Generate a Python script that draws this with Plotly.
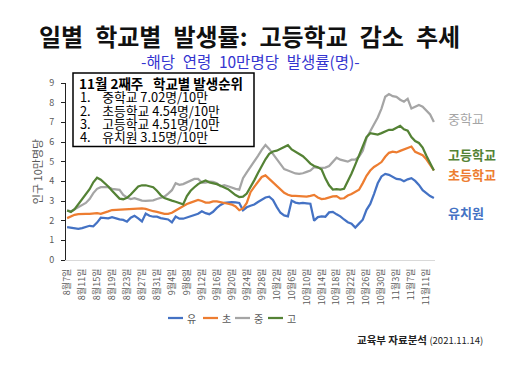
import pandas as pd
import plotly.graph_objects as go

# ---------------- data ----------------
dates = pd.date_range("2021-08-07", "2021-11-13")
categories = [f"{d.month}월{d.day}일" for d in dates]

tick_labels = ["8월7일", "8월11일", "8월15일", "8월19일", "8월23일", "8월27일", "8월31일",
               "9월4일", "9월8일", "9월12일", "9월16일", "9월20일", "9월24일", "9월28일",
               "10월2일", "10월6일", "10월10일", "10월14일", "10월18일", "10월22일",
               "10월26일", "10월30일", "11월3일", "11월7일", "11월11일"]

kinder = [1.67, 1.64, 1.61, 1.58, 1.62, 1.68, 1.74, 1.71, 1.90, 2.15,
          2.13, 2.12, 2.18, 2.12, 2.07, 2.04, 1.95, 2.15, 2.25, 2.12,
          1.96, 2.36, 2.25, 2.20, 2.20, 2.13, 2.10, 2.06, 1.91, 2.21,
          2.10, 2.10, 2.16, 2.22, 2.28, 2.35, 2.48, 2.38, 2.33, 2.45,
          2.65, 2.80, 2.90, 2.93, 2.94, 2.93, 2.90, 2.53, 2.68, 2.76,
          2.82, 2.95, 3.05, 3.18, 3.22, 3.05, 2.70, 2.40, 2.27, 2.22,
          3.02, 2.92, 2.88, 2.90, 2.88, 2.86, 2.00, 2.18, 2.22, 2.20,
          2.42, 2.45, 2.32, 2.22, 2.06, 1.92, 1.85, 1.65, 1.85, 2.05,
          2.55, 2.85, 3.35, 3.90, 4.25, 4.38, 4.33, 4.22, 4.12, 4.10,
          4.00, 4.10, 4.16, 4.02, 3.82, 3.55, 3.38, 3.25, 3.15]

elem = [2.13, 2.23, 2.30, 2.33, 2.35, 2.35, 2.35, 2.37, 2.38, 2.35,
        2.40, 2.47, 2.54, 2.55, 2.55, 2.57, 2.59, 2.59, 2.60, 2.61,
        2.62, 2.60, 2.53, 2.48, 2.45, 2.40, 2.35, 2.35, 2.40, 2.52,
        2.63, 2.76, 2.85, 2.92, 2.98, 3.05, 3.00, 2.92, 2.92, 2.98,
        2.98, 2.93, 2.88, 2.86, 2.82, 2.72, 2.53, 2.62, 2.90, 3.45,
        3.72, 3.98, 4.22, 4.30, 4.12, 3.98, 3.80, 3.60, 3.42, 3.32,
        3.26, 3.26, 3.24, 3.21, 3.22, 3.26, 3.31, 3.18, 3.10, 3.12,
        3.18, 3.23, 3.25, 3.12, 3.14, 3.28, 3.36, 3.45, 3.57, 3.91,
        4.28, 4.55, 4.73, 4.85, 4.98, 5.25, 5.45, 5.51, 5.47, 5.55,
        5.62, 5.68, 5.77, 5.50, 5.40, 5.33, 5.12, 4.85, 4.56]

middle = [2.52, 2.47, 2.58, 2.68, 2.76, 2.90, 3.10, 3.40, 3.62, 3.70,
          3.71, 3.70, 3.62, 3.58, 3.57, 3.31, 3.18, 3.10, 3.14, 3.08,
          3.02, 3.01, 3.01, 3.03, 3.10, 3.15, 3.22, 3.38, 3.55, 3.90,
          3.82, 3.86, 3.95, 4.04, 4.12, 4.12, 3.94, 3.94, 3.98, 3.97,
          3.90, 3.75, 3.80, 3.75, 3.68, 3.62, 3.58, 4.16, 4.45, 4.72,
          5.00, 5.30, 5.60, 5.85, 5.65, 5.38, 5.12, 4.85, 4.62, 4.55,
          4.46, 4.40, 4.38, 4.41, 4.48, 4.55, 4.72, 4.68, 4.68, 4.70,
          4.78, 4.98, 5.20, 5.10, 5.05, 5.00, 5.10, 5.10, 5.25, 5.55,
          6.20, 6.55, 6.85, 7.25, 7.70, 8.30, 8.44, 8.33, 8.30, 8.15,
          8.05, 8.20, 7.70, 7.80, 7.88, 7.80, 7.60, 7.40, 7.02]

high = [2.52, 2.44, 2.58, 2.85, 3.12, 3.38, 3.60, 3.95, 4.18, 4.08,
        3.92, 3.74, 3.52, 3.30, 3.12, 3.09, 3.16, 3.33, 3.55, 3.74,
        3.80, 3.80, 3.75, 3.70, 3.52, 3.30, 3.15, 3.10, 3.02, 2.96,
        2.88, 2.83, 3.25, 3.52, 3.70, 3.86, 3.96, 4.04, 3.95, 3.92,
        3.86, 3.78, 3.70, 3.60, 3.45, 3.30, 3.20, 3.22, 3.38, 3.68,
        4.05, 4.42, 4.80, 5.12, 5.40, 5.52, 5.56, 5.66, 5.76, 5.84,
        5.62, 5.52, 5.40, 5.28, 5.10, 4.90, 4.78, 4.72, 4.60, 4.15,
        3.80, 3.58, 3.60, 3.58, 3.62, 4.00, 4.40, 4.85, 5.35, 5.78,
        6.25, 6.45, 6.40, 6.38, 6.45, 6.52, 6.62, 6.62, 6.72, 6.82,
        6.65, 6.58, 6.25, 6.05, 5.95, 5.72, 5.30, 4.90, 4.55]

series_names = ["유", "초", "중", "고"]
series_values = [kinder, elem, middle, high]
series_labels = ["유치원", "초등학교", "중학교", "고등학교"]

rank_title = "11월 2째주\u2002 학교별 발생순위"
rank_items = ["중학교 7.02명/10만", "초등학교 4.54명/10만", "고등학교 4.51명/10만", "유치원 3.15명/10만"]

# ---------------- styling ----------------
colors = ["#4472C4", "#ED7D31", "#A5A5A5", "#548235"]
FONT = "Noto Sans CJK KR"
OFF = 8                      # page body margin offset
W, H = 512 - OFF, 365 - OFF
ML, MR, MT, MB = 66 - OFF, 77, 83 - OFF, 105
PW, PH = W - ML - MR, H - MT - MB


def pxx(p):
    return (p - OFF - ML) / PW


def pxy(p):
    return (H - MB - (p - OFF)) / PH


fig = go.Figure()
for name, vals, col in zip(series_names, series_values, colors):
    fig.add_trace(go.Scatter(x=categories, y=vals, mode="lines", name=name,
                             line=dict(color=col, width=2.25), showlegend=False))

ann = []
# Title
ann.append(dict(text="<b>일별\u2002학교별\u2002발생률:\u2002고등학교\u2002감소\u2002추세</b>",
                x=pxx(249), y=pxy(35), font=dict(size=24, color="#111111", family=FONT)))
ann.append(dict(text="-해당\u2002연령\u200210만명당\u2002발생률(명)-", x=pxx(250), y=pxy(61),
                font=dict(size=15.5, color="#3434D0", family=FONT)))

# Ranking box text
ann.append(dict(text="<b>" + rank_title + "</b>", x=pxx(78), y=pxy(83), xanchor="left",
                font=dict(size=13.5, color="#000000", family=FONT)))
line_y = [96.7, 110, 123.3, 136.7]
for i, (item, yy) in enumerate(zip(rank_items, line_y)):
    ann.append(dict(text=f"{i + 1}.\u2002\u2009\u2009{item}", x=pxx(79), y=pxy(yy), xanchor="left",
                    font=dict(size=12.8, color="#000000", family=FONT)))

# Right-side series labels
label_pos = {"유치원": 212, "초등학교": 174, "중학교": 118.5, "고등학교": 154}
for lab, col in zip(series_labels, colors):
    txt = lab if lab == "중학교" else f"<b>{lab}</b>"
    ann.append(dict(text=txt, x=pxx(447), y=pxy(label_pos[lab]), xanchor="left",
                    font=dict(size=13, color=col, family=FONT)))

# Legend (bottom)
leg_x = [168, 203, 235, 268]
shapes = []
for name, col, lx in zip(series_names, colors, leg_x):
    shapes.append(dict(type="line", xref="paper", yref="paper",
                       x0=pxx(lx), x1=pxx(lx + 15), y0=pxy(318), y1=pxy(318),
                       line=dict(color=col, width=2.25)))
    ann.append(dict(text=name, x=pxx(lx + 18), y=pxy(318), xanchor="left",
                    font=dict(size=10, color="#595959", family=FONT)))

# Source
ann.append(dict(text="<b>교육부 자료분석</b> <span style='font-size:9.5px'>(2021.11.14)</span>",
                x=pxx(484), y=pxy(339), xanchor="right",
                font=dict(size=10.5, color="#222222", family=FONT)))

for a in ann:
    a.setdefault("xref", "paper")
    a.setdefault("yref", "paper")
    a.setdefault("showarrow", False)
    a.setdefault("yanchor", "middle")
    a.setdefault("xanchor", "center")
    a.setdefault("borderpad", 0)

# Box around ranking
shapes.append(dict(type="rect", xref="paper", yref="paper",
                   x0=pxx(73), x1=pxx(254), y0=pxy(146.5), y1=pxy(73),
                   line=dict(color="#000000", width=1.5), fillcolor="rgba(255,255,255,0)"))

fig.update_layout(
    width=W, height=H,
    margin=dict(l=ML, r=MR, t=MT, b=MB, autoexpand=False),
    paper_bgcolor="white", plot_bgcolor="white",
    font=dict(family=FONT, color="#595959"),
    annotations=ann, shapes=shapes,
    xaxis=dict(type="category", range=[-0.3, 98.3], tickmode="array",
               tickvals=tick_labels, ticktext=tick_labels, tickangle=-90,
               tickfont=dict(size=9, color="#595959", family=FONT),
               showgrid=False, zeroline=False, showline=True, linecolor="#D9D9D9",
               linewidth=1, ticks="", ticklabelstandoff=4),
    yaxis=dict(range=[0, 9], tickmode="linear", dtick=1, tick0=0,
               tickfont=dict(size=9, color="#595959", family=FONT),
               showgrid=False, zeroline=False, showline=True, linecolor="#222222",
               linewidth=1, ticks="outside", ticklen=4, tickcolor="#222222",
               ticklabelstandoff=5,
               title=dict(text="인구 10만명당", standoff=4,
                          font=dict(size=11, color="#595959", family=FONT))),
)

fig.write_html("out.html")
